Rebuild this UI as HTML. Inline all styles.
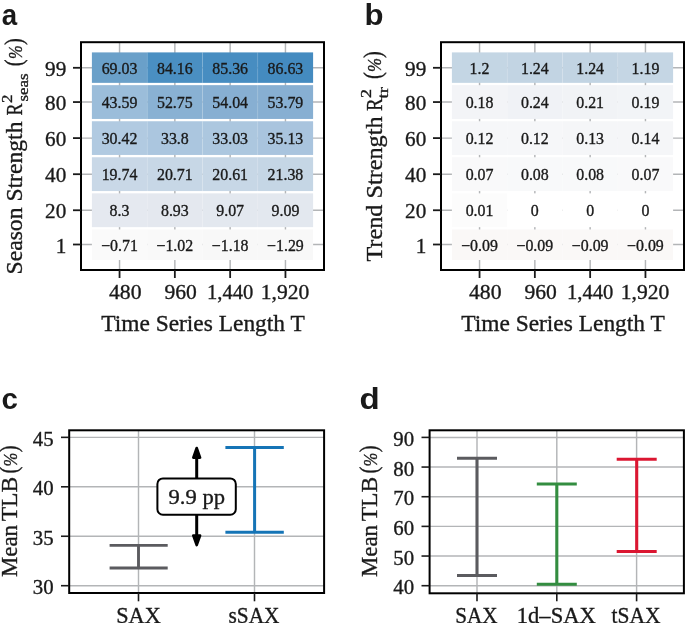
<!DOCTYPE html>
<html><head><meta charset="utf-8"><style>
html,body{margin:0;padding:0;background:#fff;width:685px;height:623px;overflow:hidden}
svg{display:block;will-change:transform}
text.s{stroke:#1a1a1a;stroke-width:0.35px}
</style></head><body>
<svg width="685" height="623" viewBox="0 0 685 623">
<rect width="685" height="623" fill="#fff"/>
<line x1="119.55" y1="42.00" x2="119.55" y2="270.00" stroke="#b3b5b7" stroke-width="1.45" stroke-linecap="butt"/>
<line x1="174.85" y1="42.00" x2="174.85" y2="270.00" stroke="#b3b5b7" stroke-width="1.45" stroke-linecap="butt"/>
<line x1="230.15" y1="42.00" x2="230.15" y2="270.00" stroke="#b3b5b7" stroke-width="1.45" stroke-linecap="butt"/>
<line x1="285.45" y1="42.00" x2="285.45" y2="270.00" stroke="#b3b5b7" stroke-width="1.45" stroke-linecap="butt"/>
<line x1="81.00" y1="67.80" x2="324.00" y2="67.80" stroke="#b3b5b7" stroke-width="1.45" stroke-linecap="butt"/>
<line x1="81.00" y1="102.06" x2="324.00" y2="102.06" stroke="#b3b5b7" stroke-width="1.45" stroke-linecap="butt"/>
<line x1="81.00" y1="138.10" x2="324.00" y2="138.10" stroke="#b3b5b7" stroke-width="1.45" stroke-linecap="butt"/>
<line x1="81.00" y1="174.20" x2="324.00" y2="174.20" stroke="#b3b5b7" stroke-width="1.45" stroke-linecap="butt"/>
<line x1="81.00" y1="210.25" x2="324.00" y2="210.25" stroke="#b3b5b7" stroke-width="1.45" stroke-linecap="butt"/>
<line x1="81.00" y1="244.50" x2="324.00" y2="244.50" stroke="#b3b5b7" stroke-width="1.45" stroke-linecap="butt"/>
<rect x="91.90" y="52.40" width="55.30" height="30.45" fill="rgb(106, 160, 201)"/>
<rect x="147.20" y="52.40" width="55.30" height="30.45" fill="rgb(74, 143, 194)"/>
<rect x="202.50" y="52.40" width="55.30" height="30.45" fill="rgb(71, 141, 193)"/>
<rect x="257.80" y="52.40" width="55.30" height="30.45" fill="rgb(68, 139, 192)"/>
<line x1="147.20" y1="52.40" x2="147.20" y2="82.85" stroke="rgba(255,255,255,0.07)" stroke-width="1" stroke-linecap="butt"/>
<line x1="202.50" y1="52.40" x2="202.50" y2="82.85" stroke="rgba(255,255,255,0.07)" stroke-width="1" stroke-linecap="butt"/>
<line x1="257.80" y1="52.40" x2="257.80" y2="82.85" stroke="rgba(255,255,255,0.07)" stroke-width="1" stroke-linecap="butt"/>
<rect x="91.90" y="85.15" width="55.30" height="33.80" fill="rgb(155, 189, 218)"/>
<rect x="147.20" y="85.15" width="55.30" height="33.80" fill="rgb(137, 177, 211)"/>
<rect x="202.50" y="85.15" width="55.30" height="33.80" fill="rgb(135, 175, 210)"/>
<rect x="257.80" y="85.15" width="55.30" height="33.80" fill="rgb(135, 175, 210)"/>
<line x1="147.20" y1="85.15" x2="147.20" y2="118.95" stroke="rgba(255,255,255,0.07)" stroke-width="1" stroke-linecap="butt"/>
<line x1="202.50" y1="85.15" x2="202.50" y2="118.95" stroke="rgba(255,255,255,0.07)" stroke-width="1" stroke-linecap="butt"/>
<line x1="257.80" y1="85.15" x2="257.80" y2="118.95" stroke="rgba(255,255,255,0.07)" stroke-width="1" stroke-linecap="butt"/>
<rect x="91.90" y="121.25" width="55.30" height="33.70" fill="rgb(177, 202, 225)"/>
<rect x="147.20" y="121.25" width="55.30" height="33.70" fill="rgb(171, 198, 223)"/>
<rect x="202.50" y="121.25" width="55.30" height="33.70" fill="rgb(172, 199, 223)"/>
<rect x="257.80" y="121.25" width="55.30" height="33.70" fill="rgb(169, 196, 222)"/>
<line x1="147.20" y1="121.25" x2="147.20" y2="154.95" stroke="rgba(255,255,255,0.07)" stroke-width="1" stroke-linecap="butt"/>
<line x1="202.50" y1="121.25" x2="202.50" y2="154.95" stroke="rgba(255,255,255,0.07)" stroke-width="1" stroke-linecap="butt"/>
<line x1="257.80" y1="121.25" x2="257.80" y2="154.95" stroke="rgba(255,255,255,0.07)" stroke-width="1" stroke-linecap="butt"/>
<rect x="91.90" y="157.25" width="55.30" height="33.80" fill="rgb(201, 216, 231)"/>
<rect x="147.20" y="157.25" width="55.30" height="33.80" fill="rgb(199, 215, 230)"/>
<rect x="202.50" y="157.25" width="55.30" height="33.80" fill="rgb(199, 215, 230)"/>
<rect x="257.80" y="157.25" width="55.30" height="33.80" fill="rgb(197, 214, 229)"/>
<line x1="147.20" y1="157.25" x2="147.20" y2="191.05" stroke="rgba(255,255,255,0.07)" stroke-width="1" stroke-linecap="butt"/>
<line x1="202.50" y1="157.25" x2="202.50" y2="191.05" stroke="rgba(255,255,255,0.07)" stroke-width="1" stroke-linecap="butt"/>
<line x1="257.80" y1="157.25" x2="257.80" y2="191.05" stroke="rgba(255,255,255,0.07)" stroke-width="1" stroke-linecap="butt"/>
<rect x="91.90" y="193.35" width="55.30" height="33.80" fill="rgb(229, 233, 240)"/>
<rect x="147.20" y="193.35" width="55.30" height="33.80" fill="rgb(228, 232, 239)"/>
<rect x="202.50" y="193.35" width="55.30" height="33.80" fill="rgb(227, 232, 239)"/>
<rect x="257.80" y="193.35" width="55.30" height="33.80" fill="rgb(227, 232, 239)"/>
<line x1="147.20" y1="193.35" x2="147.20" y2="227.15" stroke="rgba(255,255,255,0.07)" stroke-width="1" stroke-linecap="butt"/>
<line x1="202.50" y1="193.35" x2="202.50" y2="227.15" stroke="rgba(255,255,255,0.07)" stroke-width="1" stroke-linecap="butt"/>
<line x1="257.80" y1="193.35" x2="257.80" y2="227.15" stroke="rgba(255,255,255,0.07)" stroke-width="1" stroke-linecap="butt"/>
<rect x="91.90" y="229.45" width="55.30" height="30.55" fill="rgb(250, 250, 250)"/>
<rect x="147.20" y="229.45" width="55.30" height="30.55" fill="rgb(249, 249, 249)"/>
<rect x="202.50" y="229.45" width="55.30" height="30.55" fill="rgb(248, 248, 248)"/>
<rect x="257.80" y="229.45" width="55.30" height="30.55" fill="rgb(248, 248, 248)"/>
<line x1="147.20" y1="229.45" x2="147.20" y2="260.00" stroke="rgba(255,255,255,0.07)" stroke-width="1" stroke-linecap="butt"/>
<line x1="202.50" y1="229.45" x2="202.50" y2="260.00" stroke="rgba(255,255,255,0.07)" stroke-width="1" stroke-linecap="butt"/>
<line x1="257.80" y1="229.45" x2="257.80" y2="260.00" stroke="rgba(255,255,255,0.07)" stroke-width="1" stroke-linecap="butt"/>
<text x="119.55" y="73.90" font-size="15.9" text-anchor="middle" font-family='"Liberation Serif", serif' fill="#1a1a1a" class="s" >69.03</text>
<text x="174.85" y="73.90" font-size="15.9" text-anchor="middle" font-family='"Liberation Serif", serif' fill="#1a1a1a" class="s" >84.16</text>
<text x="230.15" y="73.90" font-size="15.9" text-anchor="middle" font-family='"Liberation Serif", serif' fill="#1a1a1a" class="s" >85.36</text>
<text x="285.45" y="73.90" font-size="15.9" text-anchor="middle" font-family='"Liberation Serif", serif' fill="#1a1a1a" class="s" >86.63</text>
<text x="119.55" y="108.16" font-size="15.9" text-anchor="middle" font-family='"Liberation Serif", serif' fill="#1a1a1a" class="s" >43.59</text>
<text x="174.85" y="108.16" font-size="15.9" text-anchor="middle" font-family='"Liberation Serif", serif' fill="#1a1a1a" class="s" >52.75</text>
<text x="230.15" y="108.16" font-size="15.9" text-anchor="middle" font-family='"Liberation Serif", serif' fill="#1a1a1a" class="s" >54.04</text>
<text x="285.45" y="108.16" font-size="15.9" text-anchor="middle" font-family='"Liberation Serif", serif' fill="#1a1a1a" class="s" >53.79</text>
<text x="119.55" y="144.20" font-size="15.9" text-anchor="middle" font-family='"Liberation Serif", serif' fill="#1a1a1a" class="s" >30.42</text>
<text x="174.85" y="144.20" font-size="15.9" text-anchor="middle" font-family='"Liberation Serif", serif' fill="#1a1a1a" class="s" >33.8</text>
<text x="230.15" y="144.20" font-size="15.9" text-anchor="middle" font-family='"Liberation Serif", serif' fill="#1a1a1a" class="s" >33.03</text>
<text x="285.45" y="144.20" font-size="15.9" text-anchor="middle" font-family='"Liberation Serif", serif' fill="#1a1a1a" class="s" >35.13</text>
<text x="119.55" y="180.30" font-size="15.9" text-anchor="middle" font-family='"Liberation Serif", serif' fill="#1a1a1a" class="s" >19.74</text>
<text x="174.85" y="180.30" font-size="15.9" text-anchor="middle" font-family='"Liberation Serif", serif' fill="#1a1a1a" class="s" >20.71</text>
<text x="230.15" y="180.30" font-size="15.9" text-anchor="middle" font-family='"Liberation Serif", serif' fill="#1a1a1a" class="s" >20.61</text>
<text x="285.45" y="180.30" font-size="15.9" text-anchor="middle" font-family='"Liberation Serif", serif' fill="#1a1a1a" class="s" >21.38</text>
<text x="119.55" y="216.35" font-size="15.9" text-anchor="middle" font-family='"Liberation Serif", serif' fill="#1a1a1a" class="s" >8.3</text>
<text x="174.85" y="216.35" font-size="15.9" text-anchor="middle" font-family='"Liberation Serif", serif' fill="#1a1a1a" class="s" >8.93</text>
<text x="230.15" y="216.35" font-size="15.9" text-anchor="middle" font-family='"Liberation Serif", serif' fill="#1a1a1a" class="s" >9.07</text>
<text x="285.45" y="216.35" font-size="15.9" text-anchor="middle" font-family='"Liberation Serif", serif' fill="#1a1a1a" class="s" >9.09</text>
<text x="119.55" y="250.60" font-size="15.9" text-anchor="middle" font-family='"Liberation Serif", serif' fill="#1a1a1a" class="s" >&#8722;0.71</text>
<text x="174.85" y="250.60" font-size="15.9" text-anchor="middle" font-family='"Liberation Serif", serif' fill="#1a1a1a" class="s" >&#8722;1.02</text>
<text x="230.15" y="250.60" font-size="15.9" text-anchor="middle" font-family='"Liberation Serif", serif' fill="#1a1a1a" class="s" >&#8722;1.18</text>
<text x="285.45" y="250.60" font-size="15.9" text-anchor="middle" font-family='"Liberation Serif", serif' fill="#1a1a1a" class="s" >&#8722;1.29</text>
<rect x="81" y="42.2" width="243" height="227.8" fill="none" stroke="#000" stroke-width="2"/>
<line x1="73.00" y1="67.80" x2="81.00" y2="67.80" stroke="#1a1a1a" stroke-width="1.8" stroke-linecap="butt"/>
<line x1="73.00" y1="102.06" x2="81.00" y2="102.06" stroke="#1a1a1a" stroke-width="1.8" stroke-linecap="butt"/>
<line x1="73.00" y1="138.10" x2="81.00" y2="138.10" stroke="#1a1a1a" stroke-width="1.8" stroke-linecap="butt"/>
<line x1="73.00" y1="174.20" x2="81.00" y2="174.20" stroke="#1a1a1a" stroke-width="1.8" stroke-linecap="butt"/>
<line x1="73.00" y1="210.25" x2="81.00" y2="210.25" stroke="#1a1a1a" stroke-width="1.8" stroke-linecap="butt"/>
<line x1="73.00" y1="244.50" x2="81.00" y2="244.50" stroke="#1a1a1a" stroke-width="1.8" stroke-linecap="butt"/>
<line x1="119.55" y1="270.00" x2="119.55" y2="278.00" stroke="#1a1a1a" stroke-width="1.8" stroke-linecap="butt"/>
<line x1="174.85" y1="270.00" x2="174.85" y2="278.00" stroke="#1a1a1a" stroke-width="1.8" stroke-linecap="butt"/>
<line x1="230.15" y1="270.00" x2="230.15" y2="278.00" stroke="#1a1a1a" stroke-width="1.8" stroke-linecap="butt"/>
<line x1="285.45" y1="270.00" x2="285.45" y2="278.00" stroke="#1a1a1a" stroke-width="1.8" stroke-linecap="butt"/>
<text x="66.30" y="76.00" font-size="21.2" text-anchor="end" font-family='"Liberation Serif", serif' fill="#1a1a1a" class="s" >99</text>
<text x="66.30" y="110.26" font-size="21.2" text-anchor="end" font-family='"Liberation Serif", serif' fill="#1a1a1a" class="s" >80</text>
<text x="66.30" y="146.30" font-size="21.2" text-anchor="end" font-family='"Liberation Serif", serif' fill="#1a1a1a" class="s" >60</text>
<text x="66.30" y="182.40" font-size="21.2" text-anchor="end" font-family='"Liberation Serif", serif' fill="#1a1a1a" class="s" >40</text>
<text x="66.30" y="218.45" font-size="21.2" text-anchor="end" font-family='"Liberation Serif", serif' fill="#1a1a1a" class="s" >20</text>
<text x="66.30" y="252.70" font-size="21.2" text-anchor="end" font-family='"Liberation Serif", serif' fill="#1a1a1a" class="s" >1</text>
<text x="125.30" y="299.00" font-size="21.9" text-anchor="middle" font-family='"Liberation Serif", serif' fill="#1a1a1a" textLength="32.60" lengthAdjust="spacingAndGlyphs" class="s" >480</text>
<text x="180.70" y="299.00" font-size="21.9" text-anchor="middle" font-family='"Liberation Serif", serif' fill="#1a1a1a" textLength="32.40" lengthAdjust="spacingAndGlyphs" class="s" >960</text>
<text x="230.20" y="299.00" font-size="21.9" text-anchor="middle" font-family='"Liberation Serif", serif' fill="#1a1a1a" textLength="46.40" lengthAdjust="spacingAndGlyphs" class="s" >1,440</text>
<text x="285.00" y="299.00" font-size="21.9" text-anchor="middle" font-family='"Liberation Serif", serif' fill="#1a1a1a" textLength="48.60" lengthAdjust="spacingAndGlyphs" class="s" >1,920</text>
<text x="101.30" y="330.75" font-size="23.4" text-anchor="start" font-family='"Liberation Serif", serif' fill="#1a1a1a" textLength="203.40" lengthAdjust="spacingAndGlyphs" class="s" >Time Series Length T</text>
<line x1="479.55" y1="42.00" x2="479.55" y2="270.00" stroke="#b3b5b7" stroke-width="1.45" stroke-linecap="butt"/>
<line x1="534.85" y1="42.00" x2="534.85" y2="270.00" stroke="#b3b5b7" stroke-width="1.45" stroke-linecap="butt"/>
<line x1="590.15" y1="42.00" x2="590.15" y2="270.00" stroke="#b3b5b7" stroke-width="1.45" stroke-linecap="butt"/>
<line x1="645.45" y1="42.00" x2="645.45" y2="270.00" stroke="#b3b5b7" stroke-width="1.45" stroke-linecap="butt"/>
<line x1="441.00" y1="67.80" x2="684.00" y2="67.80" stroke="#b3b5b7" stroke-width="1.45" stroke-linecap="butt"/>
<line x1="441.00" y1="102.06" x2="684.00" y2="102.06" stroke="#b3b5b7" stroke-width="1.45" stroke-linecap="butt"/>
<line x1="441.00" y1="138.10" x2="684.00" y2="138.10" stroke="#b3b5b7" stroke-width="1.45" stroke-linecap="butt"/>
<line x1="441.00" y1="174.20" x2="684.00" y2="174.20" stroke="#b3b5b7" stroke-width="1.45" stroke-linecap="butt"/>
<line x1="441.00" y1="210.25" x2="684.00" y2="210.25" stroke="#b3b5b7" stroke-width="1.45" stroke-linecap="butt"/>
<line x1="441.00" y1="244.50" x2="684.00" y2="244.50" stroke="#b3b5b7" stroke-width="1.45" stroke-linecap="butt"/>
<rect x="451.90" y="52.40" width="55.30" height="30.45" fill="rgb(196, 214, 228)"/>
<rect x="507.20" y="52.40" width="55.30" height="30.45" fill="rgb(194, 212, 227)"/>
<rect x="562.50" y="52.40" width="55.30" height="30.45" fill="rgb(194, 212, 227)"/>
<rect x="617.80" y="52.40" width="55.30" height="30.45" fill="rgb(197, 214, 228)"/>
<line x1="507.20" y1="52.40" x2="507.20" y2="82.85" stroke="rgba(255,255,255,0.07)" stroke-width="1" stroke-linecap="butt"/>
<line x1="562.50" y1="52.40" x2="562.50" y2="82.85" stroke="rgba(255,255,255,0.07)" stroke-width="1" stroke-linecap="butt"/>
<line x1="617.80" y1="52.40" x2="617.80" y2="82.85" stroke="rgba(255,255,255,0.07)" stroke-width="1" stroke-linecap="butt"/>
<rect x="451.90" y="85.15" width="55.30" height="33.80" fill="rgb(243, 244, 247)"/>
<rect x="507.20" y="85.15" width="55.30" height="33.80" fill="rgb(240, 242, 246)"/>
<rect x="562.50" y="85.15" width="55.30" height="33.80" fill="rgb(241, 243, 246)"/>
<rect x="617.80" y="85.15" width="55.30" height="33.80" fill="rgb(242, 244, 247)"/>
<line x1="507.20" y1="85.15" x2="507.20" y2="118.95" stroke="rgba(255,255,255,0.07)" stroke-width="1" stroke-linecap="butt"/>
<line x1="562.50" y1="85.15" x2="562.50" y2="118.95" stroke="rgba(255,255,255,0.07)" stroke-width="1" stroke-linecap="butt"/>
<line x1="617.80" y1="85.15" x2="617.80" y2="118.95" stroke="rgba(255,255,255,0.07)" stroke-width="1" stroke-linecap="butt"/>
<rect x="451.90" y="121.25" width="55.30" height="33.70" fill="rgb(246, 247, 249)"/>
<rect x="507.20" y="121.25" width="55.30" height="33.70" fill="rgb(246, 247, 249)"/>
<rect x="562.50" y="121.25" width="55.30" height="33.70" fill="rgb(245, 246, 248)"/>
<rect x="617.80" y="121.25" width="55.30" height="33.70" fill="rgb(245, 246, 248)"/>
<line x1="507.20" y1="121.25" x2="507.20" y2="154.95" stroke="rgba(255,255,255,0.07)" stroke-width="1" stroke-linecap="butt"/>
<line x1="562.50" y1="121.25" x2="562.50" y2="154.95" stroke="rgba(255,255,255,0.07)" stroke-width="1" stroke-linecap="butt"/>
<line x1="617.80" y1="121.25" x2="617.80" y2="154.95" stroke="rgba(255,255,255,0.07)" stroke-width="1" stroke-linecap="butt"/>
<rect x="451.90" y="157.25" width="55.30" height="33.80" fill="rgb(249, 249, 250)"/>
<rect x="507.20" y="157.25" width="55.30" height="33.80" fill="rgb(248, 249, 250)"/>
<rect x="562.50" y="157.25" width="55.30" height="33.80" fill="rgb(248, 249, 250)"/>
<rect x="617.80" y="157.25" width="55.30" height="33.80" fill="rgb(249, 249, 250)"/>
<line x1="507.20" y1="157.25" x2="507.20" y2="191.05" stroke="rgba(255,255,255,0.07)" stroke-width="1" stroke-linecap="butt"/>
<line x1="562.50" y1="157.25" x2="562.50" y2="191.05" stroke="rgba(255,255,255,0.07)" stroke-width="1" stroke-linecap="butt"/>
<line x1="617.80" y1="157.25" x2="617.80" y2="191.05" stroke="rgba(255,255,255,0.07)" stroke-width="1" stroke-linecap="butt"/>
<rect x="451.90" y="193.35" width="55.30" height="33.80" fill="rgb(252, 252, 252)"/>
<rect x="507.20" y="193.35" width="55.30" height="33.80" fill="rgb(255, 255, 255)"/>
<rect x="562.50" y="193.35" width="55.30" height="33.80" fill="rgb(255, 255, 255)"/>
<rect x="617.80" y="193.35" width="55.30" height="33.80" fill="rgb(255, 255, 255)"/>
<line x1="507.20" y1="193.35" x2="507.20" y2="227.15" stroke="rgba(255,255,255,0.07)" stroke-width="1" stroke-linecap="butt"/>
<line x1="562.50" y1="193.35" x2="562.50" y2="227.15" stroke="rgba(255,255,255,0.07)" stroke-width="1" stroke-linecap="butt"/>
<line x1="617.80" y1="193.35" x2="617.80" y2="227.15" stroke="rgba(255,255,255,0.07)" stroke-width="1" stroke-linecap="butt"/>
<rect x="451.90" y="229.45" width="55.30" height="30.55" fill="rgb(250, 248, 247)"/>
<rect x="507.20" y="229.45" width="55.30" height="30.55" fill="rgb(250, 248, 247)"/>
<rect x="562.50" y="229.45" width="55.30" height="30.55" fill="rgb(250, 248, 247)"/>
<rect x="617.80" y="229.45" width="55.30" height="30.55" fill="rgb(250, 248, 247)"/>
<line x1="507.20" y1="229.45" x2="507.20" y2="260.00" stroke="rgba(255,255,255,0.07)" stroke-width="1" stroke-linecap="butt"/>
<line x1="562.50" y1="229.45" x2="562.50" y2="260.00" stroke="rgba(255,255,255,0.07)" stroke-width="1" stroke-linecap="butt"/>
<line x1="617.80" y1="229.45" x2="617.80" y2="260.00" stroke="rgba(255,255,255,0.07)" stroke-width="1" stroke-linecap="butt"/>
<text x="479.55" y="73.90" font-size="15.9" text-anchor="middle" font-family='"Liberation Serif", serif' fill="#1a1a1a" class="s" >1.2</text>
<text x="534.85" y="73.90" font-size="15.9" text-anchor="middle" font-family='"Liberation Serif", serif' fill="#1a1a1a" class="s" >1.24</text>
<text x="590.15" y="73.90" font-size="15.9" text-anchor="middle" font-family='"Liberation Serif", serif' fill="#1a1a1a" class="s" >1.24</text>
<text x="645.45" y="73.90" font-size="15.9" text-anchor="middle" font-family='"Liberation Serif", serif' fill="#1a1a1a" class="s" >1.19</text>
<text x="479.55" y="108.16" font-size="15.9" text-anchor="middle" font-family='"Liberation Serif", serif' fill="#1a1a1a" class="s" >0.18</text>
<text x="534.85" y="108.16" font-size="15.9" text-anchor="middle" font-family='"Liberation Serif", serif' fill="#1a1a1a" class="s" >0.24</text>
<text x="590.15" y="108.16" font-size="15.9" text-anchor="middle" font-family='"Liberation Serif", serif' fill="#1a1a1a" class="s" >0.21</text>
<text x="645.45" y="108.16" font-size="15.9" text-anchor="middle" font-family='"Liberation Serif", serif' fill="#1a1a1a" class="s" >0.19</text>
<text x="479.55" y="144.20" font-size="15.9" text-anchor="middle" font-family='"Liberation Serif", serif' fill="#1a1a1a" class="s" >0.12</text>
<text x="534.85" y="144.20" font-size="15.9" text-anchor="middle" font-family='"Liberation Serif", serif' fill="#1a1a1a" class="s" >0.12</text>
<text x="590.15" y="144.20" font-size="15.9" text-anchor="middle" font-family='"Liberation Serif", serif' fill="#1a1a1a" class="s" >0.13</text>
<text x="645.45" y="144.20" font-size="15.9" text-anchor="middle" font-family='"Liberation Serif", serif' fill="#1a1a1a" class="s" >0.14</text>
<text x="479.55" y="180.30" font-size="15.9" text-anchor="middle" font-family='"Liberation Serif", serif' fill="#1a1a1a" class="s" >0.07</text>
<text x="534.85" y="180.30" font-size="15.9" text-anchor="middle" font-family='"Liberation Serif", serif' fill="#1a1a1a" class="s" >0.08</text>
<text x="590.15" y="180.30" font-size="15.9" text-anchor="middle" font-family='"Liberation Serif", serif' fill="#1a1a1a" class="s" >0.08</text>
<text x="645.45" y="180.30" font-size="15.9" text-anchor="middle" font-family='"Liberation Serif", serif' fill="#1a1a1a" class="s" >0.07</text>
<text x="479.55" y="216.35" font-size="15.9" text-anchor="middle" font-family='"Liberation Serif", serif' fill="#1a1a1a" class="s" >0.01</text>
<text x="534.85" y="216.35" font-size="15.9" text-anchor="middle" font-family='"Liberation Serif", serif' fill="#1a1a1a" class="s" >0</text>
<text x="590.15" y="216.35" font-size="15.9" text-anchor="middle" font-family='"Liberation Serif", serif' fill="#1a1a1a" class="s" >0</text>
<text x="645.45" y="216.35" font-size="15.9" text-anchor="middle" font-family='"Liberation Serif", serif' fill="#1a1a1a" class="s" >0</text>
<text x="479.55" y="250.60" font-size="15.9" text-anchor="middle" font-family='"Liberation Serif", serif' fill="#1a1a1a" class="s" >&#8722;0.09</text>
<text x="534.85" y="250.60" font-size="15.9" text-anchor="middle" font-family='"Liberation Serif", serif' fill="#1a1a1a" class="s" >&#8722;0.09</text>
<text x="590.15" y="250.60" font-size="15.9" text-anchor="middle" font-family='"Liberation Serif", serif' fill="#1a1a1a" class="s" >&#8722;0.09</text>
<text x="645.45" y="250.60" font-size="15.9" text-anchor="middle" font-family='"Liberation Serif", serif' fill="#1a1a1a" class="s" >&#8722;0.09</text>
<rect x="441" y="42.2" width="243" height="227.8" fill="none" stroke="#000" stroke-width="2"/>
<line x1="433.00" y1="67.80" x2="441.00" y2="67.80" stroke="#1a1a1a" stroke-width="1.8" stroke-linecap="butt"/>
<line x1="433.00" y1="102.06" x2="441.00" y2="102.06" stroke="#1a1a1a" stroke-width="1.8" stroke-linecap="butt"/>
<line x1="433.00" y1="138.10" x2="441.00" y2="138.10" stroke="#1a1a1a" stroke-width="1.8" stroke-linecap="butt"/>
<line x1="433.00" y1="174.20" x2="441.00" y2="174.20" stroke="#1a1a1a" stroke-width="1.8" stroke-linecap="butt"/>
<line x1="433.00" y1="210.25" x2="441.00" y2="210.25" stroke="#1a1a1a" stroke-width="1.8" stroke-linecap="butt"/>
<line x1="433.00" y1="244.50" x2="441.00" y2="244.50" stroke="#1a1a1a" stroke-width="1.8" stroke-linecap="butt"/>
<line x1="479.55" y1="270.00" x2="479.55" y2="278.00" stroke="#1a1a1a" stroke-width="1.8" stroke-linecap="butt"/>
<line x1="534.85" y1="270.00" x2="534.85" y2="278.00" stroke="#1a1a1a" stroke-width="1.8" stroke-linecap="butt"/>
<line x1="590.15" y1="270.00" x2="590.15" y2="278.00" stroke="#1a1a1a" stroke-width="1.8" stroke-linecap="butt"/>
<line x1="645.45" y1="270.00" x2="645.45" y2="278.00" stroke="#1a1a1a" stroke-width="1.8" stroke-linecap="butt"/>
<text x="426.30" y="76.00" font-size="21.2" text-anchor="end" font-family='"Liberation Serif", serif' fill="#1a1a1a" class="s" >99</text>
<text x="426.30" y="110.26" font-size="21.2" text-anchor="end" font-family='"Liberation Serif", serif' fill="#1a1a1a" class="s" >80</text>
<text x="426.30" y="146.30" font-size="21.2" text-anchor="end" font-family='"Liberation Serif", serif' fill="#1a1a1a" class="s" >60</text>
<text x="426.30" y="182.40" font-size="21.2" text-anchor="end" font-family='"Liberation Serif", serif' fill="#1a1a1a" class="s" >40</text>
<text x="426.30" y="218.45" font-size="21.2" text-anchor="end" font-family='"Liberation Serif", serif' fill="#1a1a1a" class="s" >20</text>
<text x="426.30" y="252.70" font-size="21.2" text-anchor="end" font-family='"Liberation Serif", serif' fill="#1a1a1a" class="s" >1</text>
<text x="485.30" y="299.00" font-size="21.9" text-anchor="middle" font-family='"Liberation Serif", serif' fill="#1a1a1a" textLength="32.60" lengthAdjust="spacingAndGlyphs" class="s" >480</text>
<text x="540.70" y="299.00" font-size="21.9" text-anchor="middle" font-family='"Liberation Serif", serif' fill="#1a1a1a" textLength="32.40" lengthAdjust="spacingAndGlyphs" class="s" >960</text>
<text x="590.20" y="299.00" font-size="21.9" text-anchor="middle" font-family='"Liberation Serif", serif' fill="#1a1a1a" textLength="46.40" lengthAdjust="spacingAndGlyphs" class="s" >1,440</text>
<text x="645.00" y="299.00" font-size="21.9" text-anchor="middle" font-family='"Liberation Serif", serif' fill="#1a1a1a" textLength="48.60" lengthAdjust="spacingAndGlyphs" class="s" >1,920</text>
<text x="461.30" y="330.75" font-size="23.4" text-anchor="start" font-family='"Liberation Serif", serif' fill="#1a1a1a" textLength="203.40" lengthAdjust="spacingAndGlyphs" class="s" >Time Series Length T</text>
<text class="s" transform="rotate(-90)" x="-274.50" y="21.70" font-size="23.4" font-family='"Liberation Serif", serif' fill="#1a1a1a" textLength="153.00" lengthAdjust="spacingAndGlyphs">Season Strength</text>
<text class="s" transform="rotate(-90)" x="-115.60" y="21.70" font-size="23.4" font-family='"Liberation Serif", serif' fill="#1a1a1a" textLength="12.00" lengthAdjust="spacingAndGlyphs">R</text>
<text class="s" transform="rotate(-90)" x="-103.00" y="11.50" font-size="15" font-family='"Liberation Serif", serif' fill="#1a1a1a" textLength="8.40" lengthAdjust="spacingAndGlyphs">2</text>
<text class="s" transform="rotate(-90)" x="-101.50" y="28.20" font-size="15" font-family='"Liberation Serif", serif' fill="#1a1a1a" textLength="28.20" lengthAdjust="spacingAndGlyphs">seas</text>
<text class="s" transform="rotate(-90)" x="-66.30" y="21.50" font-size="24.5" font-family='"Liberation Serif", serif' fill="#1a1a1a" textLength="6.80" lengthAdjust="spacingAndGlyphs">(</text>
<text class="s" transform="rotate(-90)" x="-44.90" y="21.50" font-size="24.5" font-family='"Liberation Serif", serif' fill="#1a1a1a" textLength="6.80" lengthAdjust="spacingAndGlyphs">)</text>
<text class="s" transform="rotate(-90)" x="-58.90" y="21.50" font-size="19.5" font-family='"Liberation Serif", serif' fill="#1a1a1a" textLength="13.60" lengthAdjust="spacingAndGlyphs" font-style="italic">%</text>
<text class="s" transform="rotate(-90)" x="-261.60" y="381.70" font-size="23.4" font-family='"Liberation Serif", serif' fill="#1a1a1a" textLength="145.10" lengthAdjust="spacingAndGlyphs">Trend Strength</text>
<text class="s" transform="rotate(-90)" x="-111.00" y="381.70" font-size="23.4" font-family='"Liberation Serif", serif' fill="#1a1a1a" textLength="12.60" lengthAdjust="spacingAndGlyphs">R</text>
<text class="s" transform="rotate(-90)" x="-98.00" y="371.00" font-size="15" font-family='"Liberation Serif", serif' fill="#1a1a1a" textLength="9.00" lengthAdjust="spacingAndGlyphs">2</text>
<text class="s" transform="rotate(-90)" x="-98.50" y="387.80" font-size="15" font-family='"Liberation Serif", serif' fill="#1a1a1a" textLength="11.50" lengthAdjust="spacingAndGlyphs">tr</text>
<text class="s" transform="rotate(-90)" x="-79.00" y="380.60" font-size="24.5" font-family='"Liberation Serif", serif' fill="#1a1a1a" textLength="6.80" lengthAdjust="spacingAndGlyphs">(</text>
<text class="s" transform="rotate(-90)" x="-58.00" y="380.60" font-size="24.5" font-family='"Liberation Serif", serif' fill="#1a1a1a" textLength="6.80" lengthAdjust="spacingAndGlyphs">)</text>
<text class="s" transform="rotate(-90)" x="-72.00" y="380.60" font-size="19.5" font-family='"Liberation Serif", serif' fill="#1a1a1a" textLength="14.00" lengthAdjust="spacingAndGlyphs" font-style="italic">%</text>
<text class="s" transform="rotate(-90)" x="-576.90" y="17.30" font-size="23.4" font-family='"Liberation Serif", serif' fill="#1a1a1a" textLength="51.90" lengthAdjust="spacingAndGlyphs">Mean</text>
<text class="s" transform="rotate(-90)" x="-521.30" y="17.30" font-size="23.4" font-family='"Liberation Serif", serif' fill="#1a1a1a" textLength="44.40" lengthAdjust="spacingAndGlyphs">TLB</text>
<text class="s" transform="rotate(-90)" x="-473.40" y="17.00" font-size="24.5" font-family='"Liberation Serif", serif' fill="#1a1a1a" textLength="6.80" lengthAdjust="spacingAndGlyphs">(</text>
<text class="s" transform="rotate(-90)" x="-452.30" y="17.00" font-size="24.5" font-family='"Liberation Serif", serif' fill="#1a1a1a" textLength="6.80" lengthAdjust="spacingAndGlyphs">)</text>
<text class="s" transform="rotate(-90)" x="-466.50" y="17.00" font-size="19.5" font-family='"Liberation Serif", serif' fill="#1a1a1a" textLength="13.80" lengthAdjust="spacingAndGlyphs" font-style="italic">%</text>
<text class="s" transform="rotate(-90)" x="-576.90" y="376.90" font-size="23.4" font-family='"Liberation Serif", serif' fill="#1a1a1a" textLength="51.90" lengthAdjust="spacingAndGlyphs">Mean</text>
<text class="s" transform="rotate(-90)" x="-521.30" y="376.90" font-size="23.4" font-family='"Liberation Serif", serif' fill="#1a1a1a" textLength="44.40" lengthAdjust="spacingAndGlyphs">TLB</text>
<text class="s" transform="rotate(-90)" x="-473.40" y="376.60" font-size="24.5" font-family='"Liberation Serif", serif' fill="#1a1a1a" textLength="6.80" lengthAdjust="spacingAndGlyphs">(</text>
<text class="s" transform="rotate(-90)" x="-452.30" y="376.60" font-size="24.5" font-family='"Liberation Serif", serif' fill="#1a1a1a" textLength="6.80" lengthAdjust="spacingAndGlyphs">)</text>
<text class="s" transform="rotate(-90)" x="-466.50" y="376.60" font-size="19.5" font-family='"Liberation Serif", serif' fill="#1a1a1a" textLength="13.80" lengthAdjust="spacingAndGlyphs" font-style="italic">%</text>
<text x="1.70" y="25.30" font-size="29.5" text-anchor="start" font-family='"Liberation Sans", sans-serif' fill="#1a1a1a" textLength="15.40" lengthAdjust="spacingAndGlyphs" font-weight="bold" >a</text>
<text x="364.60" y="25.30" font-size="29.5" text-anchor="start" font-family='"Liberation Sans", sans-serif' fill="#1a1a1a" textLength="19.00" lengthAdjust="spacingAndGlyphs" font-weight="bold" >b</text>
<text x="1.50" y="409.00" font-size="29.5" text-anchor="start" font-family='"Liberation Sans", sans-serif' fill="#1a1a1a" font-weight="bold" >c</text>
<text x="359.60" y="409.20" font-size="29.0" text-anchor="start" font-family='"Liberation Sans", sans-serif' fill="#1a1a1a" textLength="20.20" lengthAdjust="spacingAndGlyphs" font-weight="bold" >d</text>
<line x1="69.20" y1="585.70" x2="324.10" y2="585.70" stroke="#b3b5b7" stroke-width="1.45" stroke-linecap="butt"/>
<line x1="69.20" y1="536.25" x2="324.10" y2="536.25" stroke="#b3b5b7" stroke-width="1.45" stroke-linecap="butt"/>
<line x1="69.20" y1="486.80" x2="324.10" y2="486.80" stroke="#b3b5b7" stroke-width="1.45" stroke-linecap="butt"/>
<line x1="69.20" y1="437.35" x2="324.10" y2="437.35" stroke="#b3b5b7" stroke-width="1.45" stroke-linecap="butt"/>
<line x1="138.50" y1="430.30" x2="138.50" y2="593.00" stroke="#b3b5b7" stroke-width="1.45" stroke-linecap="butt"/>
<line x1="254.50" y1="430.30" x2="254.50" y2="593.00" stroke="#b3b5b7" stroke-width="1.45" stroke-linecap="butt"/>
<line x1="138.50" y1="545.35" x2="138.50" y2="568.00" stroke="#5b5b5f" stroke-width="2.9" stroke-linecap="butt"/>
<line x1="109.60" y1="545.35" x2="167.70" y2="545.35" stroke="#5b5b5f" stroke-width="2.8" stroke-linecap="butt"/>
<line x1="109.60" y1="568.00" x2="167.70" y2="568.00" stroke="#5b5b5f" stroke-width="2.8" stroke-linecap="butt"/>
<line x1="254.60" y1="447.44" x2="254.60" y2="532.29" stroke="#1574b6" stroke-width="3.0" stroke-linecap="butt"/>
<line x1="225.40" y1="447.44" x2="283.80" y2="447.44" stroke="#1574b6" stroke-width="2.9" stroke-linecap="butt"/>
<line x1="225.40" y1="532.29" x2="283.80" y2="532.29" stroke="#1574b6" stroke-width="2.9" stroke-linecap="butt"/>
<line x1="196.70" y1="457.00" x2="196.70" y2="536.00" stroke="#000" stroke-width="3" stroke-linecap="butt"/>
<path d="M196.7,448.0 L200.1,457.6 L193.3,457.6 Z" fill="#000" stroke="#000" stroke-width="2.6" stroke-linejoin="round"/>
<path d="M196.7,545.1 L200.1,535.5 L193.3,535.5 Z" fill="#000" stroke="#000" stroke-width="2.6" stroke-linejoin="round"/>
<rect x="157.4" y="478.4" width="78.4" height="36.3" rx="5.5" ry="5.5" fill="#fff" stroke="#000" stroke-width="2"/>
<text x="196.80" y="504.00" font-size="21.9" text-anchor="middle" font-family='"Liberation Serif", serif' fill="#1a1a1a" textLength="56.50" lengthAdjust="spacingAndGlyphs" class="s" >9.9 pp</text>
<rect x="69.2" y="430.3" width="254.9" height="162.7" fill="none" stroke="#000" stroke-width="2"/>
<line x1="61.00" y1="585.70" x2="69.20" y2="585.70" stroke="#1a1a1a" stroke-width="1.6" stroke-linecap="butt"/>
<text x="53.60" y="594.30" font-size="20.8" text-anchor="end" font-family='"Liberation Serif", serif' fill="#1a1a1a" class="s" >30</text>
<line x1="61.00" y1="536.25" x2="69.20" y2="536.25" stroke="#1a1a1a" stroke-width="1.6" stroke-linecap="butt"/>
<text x="53.60" y="544.85" font-size="20.8" text-anchor="end" font-family='"Liberation Serif", serif' fill="#1a1a1a" class="s" >35</text>
<line x1="61.00" y1="486.80" x2="69.20" y2="486.80" stroke="#1a1a1a" stroke-width="1.6" stroke-linecap="butt"/>
<text x="53.60" y="495.40" font-size="20.8" text-anchor="end" font-family='"Liberation Serif", serif' fill="#1a1a1a" class="s" >40</text>
<line x1="61.00" y1="437.35" x2="69.20" y2="437.35" stroke="#1a1a1a" stroke-width="1.6" stroke-linecap="butt"/>
<text x="53.60" y="445.95" font-size="20.8" text-anchor="end" font-family='"Liberation Serif", serif' fill="#1a1a1a" class="s" >45</text>
<line x1="138.50" y1="593.00" x2="138.50" y2="601.30" stroke="#1a1a1a" stroke-width="1.6" stroke-linecap="butt"/>
<line x1="254.50" y1="593.00" x2="254.50" y2="601.30" stroke="#1a1a1a" stroke-width="1.6" stroke-linecap="butt"/>
<text x="138.50" y="622.80" font-size="23.0" text-anchor="middle" font-family='"Liberation Serif", serif' fill="#1a1a1a" textLength="44.50" lengthAdjust="spacingAndGlyphs" class="s" >SAX</text>
<text x="254.00" y="622.80" font-size="23.0" text-anchor="middle" font-family='"Liberation Serif", serif' fill="#1a1a1a" textLength="51.00" lengthAdjust="spacingAndGlyphs" class="s" >sSAX</text>
<line x1="429.60" y1="585.70" x2="683.90" y2="585.70" stroke="#b3b5b7" stroke-width="1.45" stroke-linecap="butt"/>
<line x1="429.60" y1="556.04" x2="683.90" y2="556.04" stroke="#b3b5b7" stroke-width="1.45" stroke-linecap="butt"/>
<line x1="429.60" y1="526.38" x2="683.90" y2="526.38" stroke="#b3b5b7" stroke-width="1.45" stroke-linecap="butt"/>
<line x1="429.60" y1="496.72" x2="683.90" y2="496.72" stroke="#b3b5b7" stroke-width="1.45" stroke-linecap="butt"/>
<line x1="429.60" y1="467.06" x2="683.90" y2="467.06" stroke="#b3b5b7" stroke-width="1.45" stroke-linecap="butt"/>
<line x1="429.60" y1="437.40" x2="683.90" y2="437.40" stroke="#b3b5b7" stroke-width="1.45" stroke-linecap="butt"/>
<line x1="477.00" y1="430.30" x2="477.00" y2="593.30" stroke="#b3b5b7" stroke-width="1.45" stroke-linecap="butt"/>
<line x1="556.80" y1="430.30" x2="556.80" y2="593.30" stroke="#b3b5b7" stroke-width="1.45" stroke-linecap="butt"/>
<line x1="636.60" y1="430.30" x2="636.60" y2="593.30" stroke="#b3b5b7" stroke-width="1.45" stroke-linecap="butt"/>
<line x1="477.00" y1="458.37" x2="477.00" y2="575.50" stroke="#5b5b5f" stroke-width="3.1" stroke-linecap="butt"/>
<line x1="457.00" y1="458.37" x2="497.00" y2="458.37" stroke="#5b5b5f" stroke-width="3.0" stroke-linecap="butt"/>
<line x1="457.00" y1="575.50" x2="497.00" y2="575.50" stroke="#5b5b5f" stroke-width="3.0" stroke-linecap="butt"/>
<line x1="556.80" y1="483.97" x2="556.80" y2="584.22" stroke="#338d40" stroke-width="3.1" stroke-linecap="butt"/>
<line x1="536.80" y1="483.97" x2="576.80" y2="483.97" stroke="#338d40" stroke-width="3.0" stroke-linecap="butt"/>
<line x1="536.80" y1="584.22" x2="576.80" y2="584.22" stroke="#338d40" stroke-width="3.0" stroke-linecap="butt"/>
<line x1="636.70" y1="459.17" x2="636.70" y2="551.47" stroke="#db1631" stroke-width="3.1" stroke-linecap="butt"/>
<line x1="616.70" y1="459.17" x2="656.70" y2="459.17" stroke="#db1631" stroke-width="3.0" stroke-linecap="butt"/>
<line x1="616.70" y1="551.47" x2="656.70" y2="551.47" stroke="#db1631" stroke-width="3.0" stroke-linecap="butt"/>
<rect x="429.6" y="430.3" width="254.3" height="163" fill="none" stroke="#000" stroke-width="2"/>
<line x1="421.50" y1="585.70" x2="429.60" y2="585.70" stroke="#1a1a1a" stroke-width="1.6" stroke-linecap="butt"/>
<text x="414.10" y="594.30" font-size="20.8" text-anchor="end" font-family='"Liberation Serif", serif' fill="#1a1a1a" class="s" >40</text>
<line x1="421.50" y1="556.04" x2="429.60" y2="556.04" stroke="#1a1a1a" stroke-width="1.6" stroke-linecap="butt"/>
<text x="414.10" y="564.64" font-size="20.8" text-anchor="end" font-family='"Liberation Serif", serif' fill="#1a1a1a" class="s" >50</text>
<line x1="421.50" y1="526.38" x2="429.60" y2="526.38" stroke="#1a1a1a" stroke-width="1.6" stroke-linecap="butt"/>
<text x="414.10" y="534.98" font-size="20.8" text-anchor="end" font-family='"Liberation Serif", serif' fill="#1a1a1a" class="s" >60</text>
<line x1="421.50" y1="496.72" x2="429.60" y2="496.72" stroke="#1a1a1a" stroke-width="1.6" stroke-linecap="butt"/>
<text x="414.10" y="505.32" font-size="20.8" text-anchor="end" font-family='"Liberation Serif", serif' fill="#1a1a1a" class="s" >70</text>
<line x1="421.50" y1="467.06" x2="429.60" y2="467.06" stroke="#1a1a1a" stroke-width="1.6" stroke-linecap="butt"/>
<text x="414.10" y="475.66" font-size="20.8" text-anchor="end" font-family='"Liberation Serif", serif' fill="#1a1a1a" class="s" >80</text>
<line x1="421.50" y1="437.40" x2="429.60" y2="437.40" stroke="#1a1a1a" stroke-width="1.6" stroke-linecap="butt"/>
<text x="414.10" y="446.00" font-size="20.8" text-anchor="end" font-family='"Liberation Serif", serif' fill="#1a1a1a" class="s" >90</text>
<line x1="477.00" y1="593.30" x2="477.00" y2="601.30" stroke="#1a1a1a" stroke-width="1.6" stroke-linecap="butt"/>
<line x1="556.80" y1="593.30" x2="556.80" y2="601.30" stroke="#1a1a1a" stroke-width="1.6" stroke-linecap="butt"/>
<line x1="636.60" y1="593.30" x2="636.60" y2="601.30" stroke="#1a1a1a" stroke-width="1.6" stroke-linecap="butt"/>
<text x="476.50" y="622.80" font-size="23.0" text-anchor="middle" font-family='"Liberation Serif", serif' fill="#1a1a1a" textLength="42.30" lengthAdjust="spacingAndGlyphs" class="s" >SAX</text>
<text x="556.30" y="622.80" font-size="23.0" text-anchor="middle" font-family='"Liberation Serif", serif' fill="#1a1a1a" textLength="79.00" lengthAdjust="spacingAndGlyphs" class="s" >1d&#8211;SAX</text>
<text x="636.00" y="622.80" font-size="23.0" text-anchor="middle" font-family='"Liberation Serif", serif' fill="#1a1a1a" textLength="49.00" lengthAdjust="spacingAndGlyphs" class="s" >tSAX</text>
</svg>
</body></html>
